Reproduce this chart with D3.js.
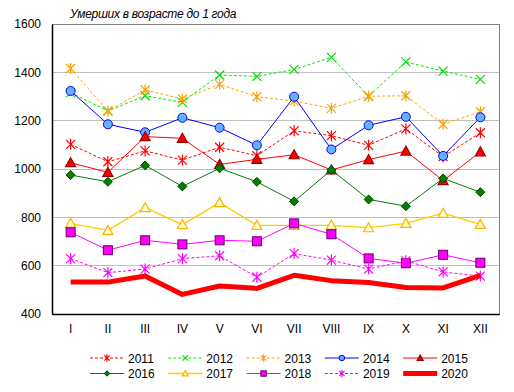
<!DOCTYPE html>
<html><head><meta charset="utf-8">
<script src="https://cdn.jsdelivr.net/npm/d3@7"></script>
<style>body{margin:0;background:#fff;}svg{display:block;font-family:"Liberation Sans",Arial,sans-serif;}</style>
</head><body>
<script>
const months = ["I","II","III","IV","V","VI","VII","VIII","IX","X","XI","XII"];
const yTicks = [400,600,800,1000,1200,1400,1600];
const y2011 = [1102,1030,1075,1037,1090,1055,1158,1138,1098,1166,1051,1150];
const y2012 = [1316,1240,1303,1276,1389,1383,1412,1462,1301,1443,1405,1371];
const y2013 = [1416,1240,1327,1290,1350,1299,1281,1251,1301,1303,1185,1237];
const y2014 = [1323,1185,1152,1212,1171,1098,1299,1081,1181,1216,1054,1214];
const y2015 = [1026,986,1134,1127,1019,1040,1059,996,1039,1074,952,1071];
const y2016 = [975,947,1015,928,1003,947,866,996,874,846,961,904];
const y2017 = [775,746,840,770,861,767,767,767,757,775,817,771];
const y2018 = [738,664,705,688,705,701,775,730,630,610,645,612];
const y2019 = [629,571,586,629,641,552,650,623,586,620,574,557];
const y2020 = [532,532,557,481,516,506,560,538,530,510,508,560];
const seriesNames = ["2011","2012","2013","2014","2015","2016","2017","2018","2019","2020"];
const seriesValues = [y2011,y2012,y2013,y2014,y2015,y2016,y2017,y2018,y2019,y2020];

const styles = {
 "2011":{c:"#FF0000",dash:"3,2",w:1,m:"star",mc:"#FF0000",mf:"none"},
 "2012":{c:"#00EE00",dash:"3,2",w:1,m:"x",mc:"#00DD00",mf:"none"},
 "2013":{c:"#FFA500",dash:"3,2",w:1,m:"star",mc:"#FFA000",mf:"none"},
 "2014":{c:"#0000FF",dash:null,w:1,m:"circle",mc:"#0000FF",mf:"#66B3FF"},
 "2015":{c:"#FF0000",dash:null,w:1,m:"triangle",mc:"#990000",mf:"#FF0000"},
 "2016":{c:"#008000",dash:null,w:1,m:"diamond",mc:"#004400",mf:"#008000"},
 "2017":{c:"#FFCC00",dash:null,w:1.3,m:"triangle",mc:"#FFB000",mf:"#FFFFCC"},
 "2018":{c:"#FF00FF",dash:null,w:1,m:"square",mc:"#660066",mf:"#FF00FF"},
 "2019":{c:"#FF00FF",dash:"3,2",w:1,m:"star",mc:"#FF00FF",mf:"none"},
 "2020":{c:"#FF0000",dash:null,w:5,m:null}
};

const W=514,H=392;
const svg=d3.select("body").append("svg").attr("width",W).attr("height",H);
const L=52,R=499,T=24,B=314;
const x=d3.scaleBand().domain(months).range([L,R]);
const y=d3.scaleLinear().domain([400,1600]).range([B,T]);

// gridlines
svg.append("g").selectAll("line").data(yTicks.filter(v=>v>400&&v<1600)).join("line")
 .attr("x1",L).attr("x2",R).attr("y1",d=>y(d)).attr("y2",d=>y(d))
 .attr("stroke","#C0C0C0").attr("stroke-width",1).attr("shape-rendering","crispEdges");
// frame top/right
svg.append("rect").attr("x",L).attr("y",T).attr("width",R-L).attr("height",B-T)
 .attr("fill","none").attr("stroke","#808080").attr("shape-rendering","crispEdges");

// y axis
const yAxis=d3.axisLeft(y).tickValues(yTicks).tickFormat(d3.format("d")).tickSize(0).tickPadding(11);
const ga=svg.append("g").attr("transform",`translate(${L},0)`).call(yAxis);
ga.select(".domain").attr("stroke","#000").attr("stroke-width",1.5);
ga.selectAll("text").attr("font-size","12px").attr("fill","#000").attr("font-family","Liberation Sans, Arial, sans-serif");
// x axis
const xAxis=d3.axisBottom(x).tickSize(0).tickPadding(10);
const gx=svg.append("g").attr("transform",`translate(0,${B})`).call(xAxis);
gx.select(".domain").attr("stroke","#000").attr("stroke-width",1.5);
gx.selectAll("text").attr("font-size","12px").attr("fill","#000").attr("font-family","Liberation Sans, Arial, sans-serif");

// title
svg.append("text").attr("x",70).attr("y",18).attr("font-size","12px").attr("font-style","italic")
 .attr("fill","#000").attr("letter-spacing","-0.3").text("Умерших в возрасте до 1 года");

function drawMarker(g,type,cx,cy,st,s){
  s=s||1;
  if(type==="circle") g.append("circle").attr("cx",cx).attr("cy",cy).attr("r",4.5*s).attr("fill",st.mf).attr("stroke",st.mc).attr("stroke-width",1);
  else if(type==="triangle"){const r=5*s; g.append("path").attr("d",`M${cx},${cy-r}L${cx+r},${cy+r*0.8}L${cx-r},${cy+r*0.8}Z`).attr("fill",st.mf).attr("stroke",st.mc).attr("stroke-width",1.2);}
  else if(type==="square"){const r=4.5*s; g.append("rect").attr("x",cx-r).attr("y",cy-r).attr("width",2*r).attr("height",2*r).attr("fill",st.mf).attr("stroke",st.mc).attr("stroke-width",1);}
  else if(type==="diamond"){const r=4.5*s; g.append("path").attr("d",`M${cx},${cy-r}L${cx+r},${cy}L${cx},${cy+r}L${cx-r},${cy}Z`).attr("fill",st.mf).attr("stroke",st.mc).attr("stroke-width",1);}
  else if(type==="x"){const r=4.5*s; g.append("path").attr("d",`M${cx-r},${cy-r}L${cx+r},${cy+r}M${cx-r},${cy+r}L${cx+r},${cy-r}`).attr("stroke",st.mc).attr("stroke-width",1.2);}
  else if(type==="star"){const r=4.5*s; g.append("path").attr("d",`M${cx-r},${cy-r}L${cx+r},${cy+r}M${cx-r},${cy+r}L${cx+r},${cy-r}M${cx},${cy-r-1}L${cx},${cy+r+1}`).attr("stroke",st.mc).attr("stroke-width",1.2);}
}

const line=d3.line().x((d,i)=>x(months[i])+x.bandwidth()/2).y(d=>y(d));
seriesNames.forEach((name,k)=>{
  const st=styles[name], vals=seriesValues[k];
  const g=svg.append("g");
  g.append("path").attr("d",line(vals)).attr("fill","none").attr("stroke",st.c)
   .attr("stroke-width",st.w).attr("stroke-dasharray",st.dash).attr("stroke-linejoin","round");
  if(st.m) vals.forEach((v,i)=>drawMarker(g,st.m,x(months[i])+x.bandwidth()/2,y(v),st));
});

// legend
const lg=svg.append("g");
seriesNames.forEach((name,k)=>{
  const st=styles[name];
  const col=k%5,row=Math.floor(k/5);
  const x0=90+col*78.3, yy=358+row*15.5;
  lg.append("line").attr("x1",x0).attr("x2",x0+34).attr("y1",yy).attr("y2",yy).attr("stroke",st.c)
    .attr("stroke-width",st.w).attr("stroke-dasharray",st.dash);
  if(st.m) drawMarker(lg,st.m,x0+17,yy,st,0.6);
  lg.append("text").attr("x",x0+38).attr("y",yy+4.5).attr("font-size","12px").attr("fill","#000").text(name);
});
</script>
</body></html>
